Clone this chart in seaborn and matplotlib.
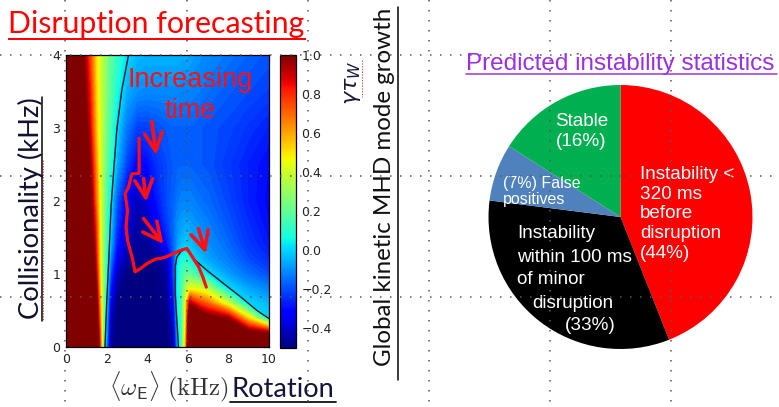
import numpy as np
import matplotlib
matplotlib.use("Agg")
import matplotlib.pyplot as plt
import seaborn as sns
from matplotlib.colors import Normalize
from matplotlib.cm import ScalarMappable
from matplotlib.ticker import MultipleLocator

# ---------------- data ----------------
rotation_khz = [0, 0.8, 1.2, 1.5, 1.7, 1.85, 2.0, 2.2, 2.5, 3.0, 3.5, 4.0,
                4.5, 5.0, 5.3, 5.5, 5.7, 5.9, 6.1, 6.5, 7.0, 8.0, 9.0, 10.0]
collisionality_khz = [0.0, 0.2, 0.4, 0.6, 0.8, 1.0, 1.2, 1.4, 1.7, 2.0, 2.5, 3.0, 3.5, 4.0]
growth_rate_rows = [
    [1.5, 1.5, 1.5, 1.4, 0.72, 0.18, -0.15, -0.48, -0.5, -0.5, -0.5, -0.5, -0.5, -0.5, -0.45, -0.08, 0.15, 0.6, 1.5, 1.5, 1.5, 1.5, 1.5, 1.4],
    [1.5, 1.5, 1.5, 1.3, 0.65, 0.2, -0.08, -0.45, -0.5, -0.5, -0.5, -0.5, -0.5, -0.5, -0.43, -0.03, 0.15, 0.55, 1.4, 1.5, 1.4, 1.2, 1.05, 0.95],
    [1.5, 1.5, 1.5, 1.15, 0.6, 0.24, -0.05, -0.42, -0.5, -0.5, -0.5, -0.5, -0.5, -0.5, -0.38, 0.03, 0.15, 0.5, 1.3, 1.2, 1.05, 0.95, 0.5, 0.0],
    [1.5, 1.5, 1.5, 1.05, 0.55, 0.25, 0.0, -0.35, -0.5, -0.5, -0.5, -0.5, -0.5, -0.48, -0.3, 0.05, 0.15, 0.5, 0.95, 0.8, 0.7, 0.4, 0.0, -0.05],
    [1.5, 1.5, 1.5, 0.98, 0.5, 0.26, 0.04, -0.28, -0.47, -0.5, -0.5, -0.5, -0.5, -0.47, -0.25, 0.05, 0.15, 0.35, 0.45, 0.43, 0.35, 0.01, -0.07, -0.12],
    [1.5, 1.5, 1.35, 0.9, 0.47, 0.27, 0.08, -0.2, -0.42, -0.5, -0.5, -0.5, -0.5, -0.45, -0.22, 0.04, 0.14, 0.2, 0.2, 0.12, 0.01, -0.08, -0.15, -0.2],
    [1.5, 1.5, 1.3, 0.83, 0.45, 0.27, 0.1, -0.12, -0.35, -0.45, -0.48, -0.48, -0.47, -0.4, -0.22, 0.02, 0.08, 0.1, 0.05, -0.02, -0.07, -0.13, -0.2, -0.25],
    [1.5, 1.5, 1.25, 0.8, 0.44, 0.28, 0.12, -0.05, -0.28, -0.42, -0.47, -0.47, -0.42, -0.28, -0.17, -0.08, -0.04, -0.01, -0.03, -0.07, -0.1, -0.16, -0.23, -0.28],
    [1.5, 1.5, 1.15, 0.75, 0.43, 0.3, 0.14, -0.01, -0.22, -0.38, -0.45, -0.43, -0.33, -0.22, -0.16, -0.1, -0.08, -0.07, -0.08, -0.1, -0.13, -0.19, -0.25, -0.3],
    [1.5, 1.4, 1.08, 0.67, 0.42, 0.3, 0.17, 0.02, -0.18, -0.35, -0.42, -0.38, -0.28, -0.2, -0.17, -0.14, -0.12, -0.12, -0.12, -0.14, -0.16, -0.21, -0.27, -0.31],
    [1.5, 1.3, 0.97, 0.62, 0.4, 0.3, 0.2, 0.1, -0.05, -0.22, -0.32, -0.3, -0.24, -0.2, -0.18, -0.17, -0.17, -0.17, -0.17, -0.18, -0.19, -0.23, -0.27, -0.3],
    [1.5, 1.2, 0.87, 0.55, 0.4, 0.32, 0.22, 0.15, 0.0, -0.14, -0.22, -0.22, -0.2, -0.18, -0.17, -0.17, -0.17, -0.17, -0.17, -0.18, -0.19, -0.21, -0.24, -0.27],
    [1.5, 1.1, 0.82, 0.52, 0.4, 0.33, 0.25, 0.18, 0.07, -0.06, -0.1, -0.11, -0.11, -0.11, -0.11, -0.11, -0.12, -0.12, -0.12, -0.13, -0.15, -0.18, -0.2, -0.22],
    [1.5, 1.05, 0.75, 0.5, 0.4, 0.33, 0.26, 0.19, 0.12, 0.01, -0.04, -0.05, -0.05, -0.05, -0.05, -0.05, -0.06, -0.06, -0.07, -0.09, -0.11, -0.14, -0.17, -0.19],
]

marginal_left_x = [3.08, 2.75, 2.50, 2.34, 2.22, 2.12, 2.01, 1.92]
marginal_left_y = [4.0, 3.52, 2.97, 2.38, 1.92, 1.28, 0.64, 0.0]
marginal_right_x = [5.54, 5.38, 5.38, 5.46, 5.63, 5.87, 6.04, 6.28, 6.94, 7.76, 8.59, 9.41, 10.0]
marginal_right_y = [0.0, 0.73, 1.10, 1.23, 1.30, 1.35, 1.33, 1.21, 1.05, 0.87, 0.69, 0.50, 0.39]

trajectory_x = [3.60, 3.60, 3.24, 3.08, 2.91, 3.03, 2.96, 3.03, 3.16, 3.29, 3.40, 3.65, 3.98,
                4.23, 4.47, 4.64, 4.97, 5.30, 5.46, 5.71, 5.95, 6.12, 6.28, 6.53, 6.74, 6.91]
trajectory_y = [2.86, 2.38, 2.37, 2.19, 2.10, 1.87, 1.65, 1.46, 1.33, 1.19, 1.03, 1.07, 1.14,
                1.18, 1.21, 1.21, 1.24, 1.28, 1.30, 1.33, 1.35, 1.28, 1.21, 1.10, 0.96, 0.82]

arrow_start_x = [4.23, 3.82, 3.82, 6.53]
arrow_start_y = [3.09, 2.31, 1.76, 1.62]
arrow_tip_x = [4.44, 3.95, 4.80, 6.89]
arrow_tip_y = [2.63, 1.99, 1.41, 1.28]

x_ticks = [0, 2, 4, 6, 8, 10]
y_ticks = [0, 1, 2, 3, 4]
cbar_ticks = [1.0, 0.8, 0.6, 0.4, 0.2, 0.0, -0.2, -0.4]
cbar_min, cbar_max = -0.5, 1.0

pie_shares = [44, 33, 7, 16]
pie_names = ["Instability <\n320 ms\nbefore\ndisruption\n(44%)",
             "Instability\nwithin 100 ms\nof minor\ndisruption\n(33%)",
             "(7%) False\npositives",
             "Stable\n(16%)"]
pie_colors = ["#FF0000", "#000000", "#4F81BD", "#00B050"]

# ---------------- figure ----------------
sns.set_theme(style="white")
plt.rcParams["font.family"] = ["DejaVu Sans"]
plt.rcParams["lines.scale_dashes"] = False
plt.rcParams["axes.unicode_minus"] = True

W, H = 779, 407
fig = plt.figure(figsize=(W / 100, H / 100), dpi=100)
fig.patch.set_facecolor("white")


def frac_box(x0, y0, x1, y1):
    return [x0 / W, 1 - y1 / H, (x1 - x0) / W, (y1 - y0) / H]


# heat map of growth rate
ax = fig.add_axes(frac_box(66, 55, 269, 347))
Z = np.array(growth_rate_rows)
levels = np.linspace(cbar_min, cbar_max, 91)
ax.contourf(rotation_khz, collisionality_khz, Z, levels=levels, cmap="jet",
            extend="both", antialiased=False)
sns.lineplot(x=marginal_left_x, y=marginal_left_y, sort=False, estimator=None,
             color="#0a1a1a", linewidth=1.0, ax=ax)
sns.lineplot(x=marginal_right_x, y=marginal_right_y, sort=False, estimator=None,
             color="#0a1a1a", linewidth=1.0, ax=ax)
sns.lineplot(x=trajectory_x, y=trajectory_y, sort=False, estimator=None,
             color="#ff1010", linewidth=2.3, ax=ax)
for sx, sy, tx, ty in zip(arrow_start_x, arrow_start_y, arrow_tip_x, arrow_tip_y):
    ax.annotate("", xy=(tx, ty), xytext=(sx, sy),
                arrowprops=dict(arrowstyle="->,head_length=0.65,head_width=0.32",
                                lw=2.6, color="#ff1010", mutation_scale=20,
                                shrinkA=0, shrinkB=0))
t_inc = ax.text(6.13, 3.566, "Increasing", ha="center", va="baseline", color="#ff1010",
                fontsize=19, family=["Liberation Sans", "DejaVu Sans"])
t_time = ax.text(6.13, 3.137, "time", ha="center", va="baseline", color="#ff1010",
                 fontsize=19, family=["Liberation Sans", "DejaVu Sans"])
ax.set_xlim(0, 10)
ax.set_ylim(0, 4)
ax.set_xticks(x_ticks)
ax.set_yticks(y_ticks)
ax.xaxis.set_minor_locator(MultipleLocator(0.5))
ax.yaxis.set_minor_locator(MultipleLocator(0.125))
ax.tick_params(which="both", direction="in", top=True, right=True, color="black")
ax.tick_params(which="major", length=4, width=0.8, labelsize=9, labelcolor="#222222")
ax.tick_params(which="minor", length=2, width=0.6)
ax.tick_params(axis="x", pad=4)
ax.tick_params(axis="y", pad=4)
for s in ax.spines.values():
    s.set_color("black")
    s.set_linewidth(0.9)
ax.set_xlabel("")
ax.set_ylabel("")

# colour bar
cax = fig.add_axes(frac_box(280, 55, 296, 348))
cb = fig.colorbar(ScalarMappable(norm=Normalize(cbar_min, cbar_max), cmap="jet"),
                  cax=cax, ticks=cbar_ticks)
cb.outline.set_linewidth(0.9)
cb.outline.set_edgecolor("black")
cax.tick_params(direction="in", length=4, width=0.8, labelsize=9,
                labelcolor="#222222", pad=4)

# pie chart
pax = fig.add_axes(frac_box(488.5, 85, 752.5, 349))
pax.pie(pie_shares, colors=pie_colors, startangle=90, counterclock=False,
        radius=1.0, wedgeprops=dict(linewidth=0, edgecolor="none"))
pax.set_xlim(-1, 1)
pax.set_ylim(-1, 1)
pax.set_aspect("equal")
pax.axis("off")


def pie_xy(px, py):
    return (px - 620.5) / 132.0, (217 - py) / 132.0


arial = ["Liberation Sans", "DejaVu Sans"]
lx, ly = pie_xy(640, 214)
pax.text(lx, ly, pie_names[0], color="white", ha="left", va="center",
         fontsize=13.6, family=arial, linespacing=1.22)
black_lines = pie_names[1].split("\n")
black_pos = [(517, 233), (517, 257), (517, 280), (532, 303), (565, 325)]
for line, (px, py) in zip(black_lines, black_pos):
    bx, by = pie_xy(px, py)
    pax.text(bx, by, line, color="white", ha="left", va="center",
             fontsize=13.6, family=arial)
fx, fy = pie_xy(503, 191.5)
pax.text(fx, fy, pie_names[2], color="white", ha="left", va="center",
         fontsize=11.5, family=arial, linespacing=1.05)
gx_, gy_ = pie_xy(581.5, 131.5)
pax.text(gx_, gy_, pie_names[3], color="white", ha="center", va="center",
         fontsize=13.6, family=arial, linespacing=1.22, multialignment="center")

# overlay in pixel coordinates: slide texts, underlines and guides
ov = fig.add_axes([0, 0, 1, 1], zorder=10)
ov.set_xlim(0, W)
ov.set_ylim(H, 0)
ov.axis("off")
ov.patch.set_alpha(0)

calibri_like = ["Lato", "DejaVu Sans"]
t_title = ov.text(8, 33, "Disruption forecasting", color="#ff0000", ha="left",
                  va="baseline", fontsize=20, family=calibri_like)
t_ylab = ov.text(31, 208.5, "Collisionality (kHz)", rotation=90, ha="center",
                 va="center", color="#101030", fontsize=16, family=calibri_like)
t_glob = ov.text(385, 187, "Global kinetic MHD mode growth", rotation=90, ha="center",
                 va="center", color="#111111", fontsize=16, family=calibri_like)
t_gam = ov.text(353, 83, r"$\gamma\tau_W$", rotation=90, ha="center", va="center",
                color="#1a1a3a", fontsize=16, math_fontfamily="dejavusans")
t_xlab = ov.text(229, 395, r"$\langle\omega_{\mathsf{E}}\rangle\ (\mathrm{kHz})$",
                 ha="right", va="baseline", color="#333333", fontsize=15,
                 math_fontfamily="cm")
t_rot = ov.text(232, 397, "Rotation", ha="left", va="baseline", color="#15153a",
                fontsize=16, family=calibri_like)
t_pie = ov.text(466, 70, "Predicted instability statistics", ha="left", va="baseline",
                color="#9B30E0", fontsize=17, family=arial)

fig.canvas.draw()
renderer = fig.canvas.get_renderer()


def fit(t, target, use_height=False):
    bb = t.get_window_extent(renderer=renderer)
    cur = bb.height if use_height else bb.width
    t.set_fontsize(t.get_fontsize() * target / cur)


fit(t_title, 297)
fit(t_ylab, 223, use_height=True)
fit(t_glob, 360, use_height=True)
fit(t_xlab, 120)
fit(t_rot, 103)
fit(t_pie, 311)
fit(t_inc, 125)
t_time.set_fontsize(t_inc.get_fontsize())

px_pt = 0.72
ov.plot([8, 306], [38.5, 38.5], color="#ff0000", lw=2.0 * px_pt, solid_capstyle="butt")
ov.plot([42, 42], [97, 321], color="#101010", lw=1.6 * px_pt)
ov.plot([43.5, 43.5], [160, 321], color="#e05050", lw=1.0 * px_pt, ls=(0, (1, 1)))
ov.plot([398, 398], [7, 380], color="#101010", lw=1.6 * px_pt)
ov.plot([362.5, 362.5], [60, 97], color="#e05050", lw=1.0 * px_pt, ls=(0, (1, 1)))
ov.plot([230, 336], [402, 402], color="#101010", lw=1.8 * px_pt)
ov.plot([466, 777], [74, 74], color="#9B30E0", lw=1.5 * px_pt)

guide_x = [65, 187, 308, 429, 550, 671]
guide_y = [55, 176, 297]
dots = (0, (1.1, 6.1))
for gx in guide_x:
    ov.plot([gx, gx], [0, H], color="#5a5a5a", lw=1.1, ls=dots)
for gy in guide_y:
    ov.plot([0, W], [gy, gy], color="#5a5a5a", lw=1.1, ls=dots)

fig.savefig("out.png", dpi=100)
